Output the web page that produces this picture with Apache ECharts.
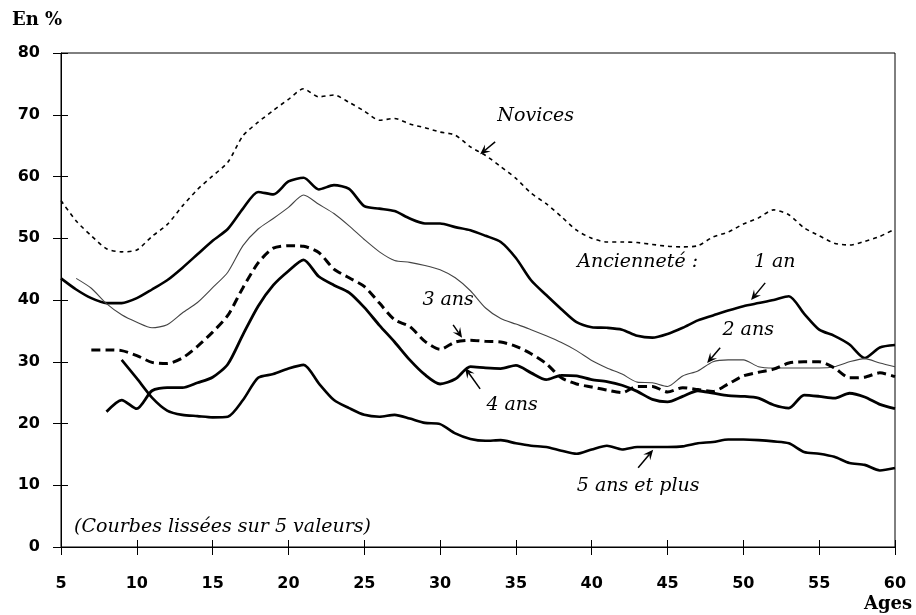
<!DOCTYPE html>
<html><head><meta charset="utf-8">
<script src="https://cdn.jsdelivr.net/npm/echarts@6/dist/echarts.min.js"></script>
<style>html,body{margin:0;padding:0;background:#fff}#c{width:916px;height:615px}</style>
</head><body><div id="c"></div>
<script>
const ages = [5,6,7,8,9,10,11,12,13,14,15,16,17,18,19,20,21,22,23,24,25,26,27,28,29,30,31,32,33,34,35,36,37,38,39,40,41,42,43,44,45,46,47,48,49,50,51,52,53,54,55,56,57,58,59,60];
const xTicks = [5,10,15,20,25,30,35,40,45,50,55,60];
const yTicks = [0,10,20,30,40,50,60,70,80];

const novices = [56.1,52.8,50.4,48.3,47.8,48.1,50.3,52.2,55.2,57.9,60.1,62.3,66.6,68.8,70.7,72.5,74.2,72.9,73.2,72,70.6,69.1,69.4,68.5,67.9,67.2,66.7,64.8,63.4,61.6,59.7,57.3,55.6,53.5,51.3,50,49.4,49.4,49.3,49,48.7,48.6,48.8,50.2,51,52.3,53.3,54.6,53.8,51.7,50.4,49.2,48.9,49.5,50.3,51.5];
const an1 = [43.5,41.7,40.3,39.5,39.5,40.3,41.7,43.2,45.2,47.4,49.6,51.5,54.8,57.5,57.1,59.2,59.8,57.9,58.6,58,55.2,54.8,54.4,53.2,52.4,52.4,51.8,51.3,50.4,49.4,46.8,43.2,40.8,38.5,36.4,35.6,35.5,35.2,34.2,33.9,34.5,35.5,36.7,37.5,38.3,39,39.5,40,40.6,37.8,35.2,34.2,32.8,30.6,32.3,32.7];
const ans2 = [null,43.5,41.9,39.4,37.6,36.4,35.5,36,37.9,39.6,42,44.5,48.8,51.5,53.2,55,57,55.5,54,52,49.8,47.8,46.4,46.1,45.6,44.9,43.6,41.5,38.7,37,36.1,35.2,34.2,33.1,31.8,30.2,29,28,26.7,26.6,26,27.7,28.5,30,30.3,30.3,29.2,29,29,29,29,29.2,30,30.5,29.8,29.2];
const ans3 = [null,null,31.9,31.9,31.8,31,29.9,29.7,30.6,32.5,34.8,37.5,42,46,48.4,48.8,48.7,47.7,45,43.6,42.2,39.5,36.8,35.7,33.3,32,33.2,33.5,33.3,33.2,32.5,31.3,29.7,27.4,26.4,25.9,25.4,25,26,26,25.1,25.8,25.5,25.2,26.4,27.7,28.3,28.8,29.8,30,30,29,27.4,27.5,28.2,27.6];
const ans4 = [null,null,null,21.9,23.8,22.4,25.3,25.8,25.8,26.6,27.5,29.6,34.4,39,42.4,44.7,46.5,43.8,42.4,41.2,38.8,35.9,33.2,30.3,27.9,26.4,27.2,29.2,29,28.9,29.4,28.2,27.1,27.8,27.7,27.1,26.8,26.2,25.2,23.9,23.5,24.4,25.3,24.9,24.5,24.4,24.1,23,22.5,24.6,24.4,24.1,24.9,24.3,23.1,22.4];
const ans5 = [null,null,null,null,30.3,27.3,24.2,22.1,21.4,21.2,21,21.1,23.8,27.4,28,28.9,29.5,26.5,23.8,22.5,21.4,21.1,21.4,20.8,20.1,19.9,18.4,17.5,17.2,17.3,16.8,16.4,16.2,15.6,15.1,15.8,16.4,15.8,16.2,16.2,16.2,16.3,16.8,17,17.4,17.4,17.3,17.1,16.8,15.4,15.1,14.6,13.6,13.3,12.4,12.8];

const noteTexts = ['Novices','Ancienneté :','1 an','2 ans','3 ans','4 ans','5 ans et plus','(Courbes lissées sur 5 valeurs)'];
const notePos = [[36.3,69.8],[43.03,46.2],[52.07,46.2],[50.32,35.2],[30.53,40.0],[34.75,23.0],[43.06,9.9],[15.65,3.3]];
const arrowPos = [
  [[33.63,65.6],[32.64,63.6]],
  [[51.44,42.77],[50.51,40.0]],
  [[48.47,32.25],[47.61,29.8]],
  [[30.86,35.97],[31.45,33.87]],
  [[32.64,25.6],[31.65,29.0]],
  [[43.06,12.83],[44.05,15.74]]
];

const pair = v => ages.map((a,i)=>[a,v[i]]);
const chart = echarts.init(document.getElementById('c'), null, {renderer:'canvas'});
const tickFont = {fontFamily:'DejaVu Sans', fontWeight:'bold', fontSize:16, color:'#000'};
const black = '#000';

function mkSeries(name, data, style){
  return {name, type:'line', data:pair(data), showSymbol:false, symbol:'none', smooth:0.25,
    connectNulls:false, silent:true, lineStyle:Object.assign({color:black}, style), z:3};
}

chart.setOption({
  animation:false,
  backgroundColor:'#fff',
  grid:{left:61, right:21, top:53, bottom:68, show:true, borderColor:'#000', borderWidth:1},
  xAxis:[
    {type:'value', min:5, max:60, interval:5, position:'bottom',
     axisLine:{show:true, lineStyle:{color:black, width:1}},
     axisTick:{show:true, length:8, lineStyle:{color:black}},
     axisLabel:Object.assign({margin:29, formatter:v=>xTicks.includes(v)?String(v):''}, tickFont),
     splitLine:{show:false}},
    {type:'value', min:5, max:60, interval:5, position:'bottom',
     axisLine:{show:false}, axisTick:{show:true, inside:true, length:7, lineStyle:{color:black}},
     axisLabel:{show:false}, splitLine:{show:false}}
  ],
  yAxis:[
    {type:'value', min:0, max:80, interval:10, position:'left',
     axisLine:{show:true, lineStyle:{color:black, width:1}},
     axisTick:{show:true, length:8, lineStyle:{color:black}},
     axisLabel:Object.assign({margin:21, formatter:v=>yTicks.includes(v)?String(v):''}, tickFont),
     splitLine:{show:false}},
    {type:'value', min:0, max:80, interval:10, position:'left',
     axisLine:{show:false}, axisTick:{show:true, inside:true, length:7, lineStyle:{color:black}},
     axisLabel:{show:false}, splitLine:{show:false}}
  ],
  series:[
    mkSeries('Novices', novices, {width:1.6, type:[4,4]}),
    mkSeries('1 an', an1, {width:2.6}),
    mkSeries('2 ans', ans2, {width:1.1, color:'#444'}),
    mkSeries('3 ans', ans3, {width:3, type:[9,5]}),
    mkSeries('4 ans', ans4, {width:2.8}),
    mkSeries('5 ans et plus', ans5, {width:2.6})
  ]
});

const graphics = [];
const noteFont = 'italic 19px "DejaVu Serif"';
noteTexts.forEach((t,i)=>{
  const p = chart.convertToPixel({xAxisIndex:0, yAxisIndex:0}, notePos[i]);
  graphics.push({type:'text', x:p[0], y:p[1], z:10, silent:true,
    style:{text:t, font:noteFont, fill:'#000', textAlign:'center', textVerticalAlign:'middle'}});
});
arrowPos.forEach(a=>{
  const p0 = chart.convertToPixel({xAxisIndex:0, yAxisIndex:0}, a[0]);
  const p1 = chart.convertToPixel({xAxisIndex:0, yAxisIndex:0}, a[1]);
  const dx = p1[0]-p0[0], dy = p1[1]-p0[1], L = Math.hypot(dx,dy);
  const ux = dx/L, uy = dy/L, nx = -uy, ny = ux;
  const hl = 10, hw = 4.5;
  const b = [p1[0]-ux*hl, p1[1]-uy*hl];
  const notch = [p1[0]-ux*hl*0.6, p1[1]-uy*hl*0.6];
  graphics.push({type:'line', z:10, silent:true, shape:{x1:p0[0], y1:p0[1], x2:notch[0], y2:notch[1]},
    style:{stroke:'#000', lineWidth:1.5}});
  graphics.push({type:'polygon', z:10, silent:true,
    shape:{points:[p1, [b[0]+nx*hw, b[1]+ny*hw], notch, [b[0]-nx*hw, b[1]-ny*hw]]},
    style:{fill:'#000'}});
});
graphics.push({type:'text', left:12, top:11, z:10, silent:true,
  style:{text:'En %', font:'bold 18px "DejaVu Serif"', fill:'#000'}});
graphics.push({type:'text', left:864, top:595, z:10, silent:true,
  style:{text:'Ages', font:'bold 18px "DejaVu Serif"', fill:'#000'}});
chart.setOption({graphic:graphics});
</script>
</body></html>
